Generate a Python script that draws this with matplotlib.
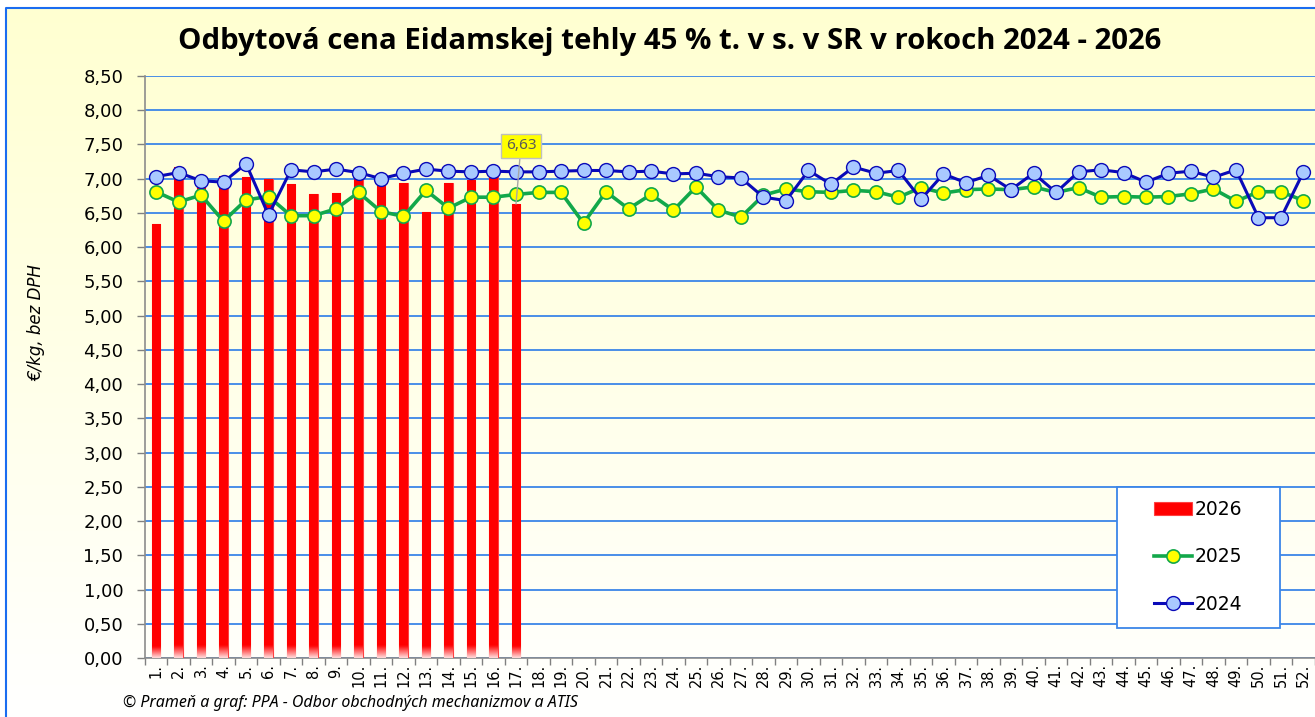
import numpy as np
import matplotlib
matplotlib.use("Agg")
import matplotlib.pyplot as plt
from matplotlib.patches import Rectangle
from matplotlib.ticker import FixedLocator, FuncFormatter

# ---- data ----
weeks = [f"{i}." for i in range(1, 53)]
y2026 = [6.34, 7.17, 6.95, 7.04, 7.02, 7.00, 6.92, 6.77, 6.79, 7.01, 6.97, 6.94,
         6.51, 6.93, 6.98, 7.02, 6.63]
y2025 = [6.81, 6.66, 6.76, 6.38, 6.69, 6.74, 6.46, 6.46, 6.56, 6.80, 6.52, 6.45,
         6.83, 6.57, 6.73, 6.73, 6.77, 6.80, 6.80, 6.35, 6.81, 6.56, 6.77, 6.54,
         6.88, 6.54, 6.44, 6.76, 6.85, 6.81, 6.80, 6.83, 6.81, 6.73, 6.87, 6.79,
         6.84, 6.85, 6.84, 6.88, 6.80, 6.87, 6.73, 6.74, 6.73, 6.74, 6.78, 6.85,
         6.67, 6.81, 6.81, 6.68]
y2024 = [7.03, 7.09, 6.97, 6.95, 7.22, 6.47, 7.13, 7.10, 7.14, 7.09, 7.00, 7.08,
         7.14, 7.11, 7.10, 7.11, 7.10, 7.10, 7.11, 7.12, 7.12, 7.10, 7.11, 7.07,
         7.08, 7.03, 7.01, 6.73, 6.68, 7.12, 6.92, 7.17, 7.08, 7.12, 6.70, 7.07,
         6.94, 7.05, 6.84, 7.08, 6.80, 7.10, 7.13, 7.09, 6.95, 7.08, 7.11, 7.02,
         7.13, 6.43, 6.43, 7.10]
yticks = np.arange(0, 8.51, 0.5)
title = "Odbytová cena Eidamskej tehly 45 % t. v s. v SR v rokoch 2024 - 2026"
ylabel = "€/kg, bez DPH"
footer = "© Prameň a graf: PPA - Odbor obchodných mechanizmov a ATIS"

W, H = 1315, 717
fig = plt.figure(figsize=(W / 100, H / 100), dpi=100)
fig.patch.set_facecolor("white")

# background gradient + border
bg = fig.add_axes([0, 0, 1, 1], zorder=-10)
bg.set_axis_off()
grad = np.linspace(0, 1, 256).reshape(-1, 1)
top = np.array([1.0, 1.0, 0.82])
bot = np.array([1.0, 1.0, 1.0])
img = top[None, None, :] * (1 - grad[:, :, None]) + bot[None, None, :] * grad[:, :, None]
bg.imshow(img, extent=[6 / W, 1, 0, 1 - 8 / H], aspect="auto", origin="upper",
          transform=bg.transAxes)
bg.set_xlim(0, 1)
bg.set_ylim(0, 1)
bg.plot([6 / W, 6 / W, 1], [0, 1 - 8 / H, 1 - 8 / H], color="#1a6cf0", lw=1.5,
        transform=bg.transAxes)

left, right, ytop, ybot = 144.75, 1314.75, 76, 658
ax = fig.add_axes([left / W, 1 - ybot / H, (right - left) / W, (ybot - ytop) / H])
ax.set_facecolor("none")

x = np.arange(1, 53)
x26 = np.arange(1, len(y2026) + 1)
bars = ax.bar(x26, y2026, width=0.36, color="#FF0000", edgecolor="#FF4040",
              linewidth=0.8, zorder=3)
# subtle gradient inside the bars: pale only at the very base
gv = np.linspace(0, 1, 300)
shade = np.clip((gv - 0.975) / 0.025, 0, 1) * 0.9
bar_img = np.zeros((300, 1, 3))
bar_img[:, 0, 0] = 1.0
bar_img[:, 0, 1] = 0.92 * shade
bar_img[:, 0, 2] = 0.92 * shade
for b in bars:
    im = ax.imshow(bar_img, extent=[b.get_x(), b.get_x() + b.get_width(), 0, b.get_height()],
                   aspect="auto", origin="upper", zorder=3.1, interpolation="bilinear")
    im.set_clip_path(b)
ax.plot(x, y2025, color="#12A84A", lw=2.6, marker="o", ms=9.5, mfc="#FFFF00",
        mec="#12A84A", mew=1.2, zorder=4)
ax.plot(x, y2024, color="#0A0AB8", lw=2.2, marker="o", ms=10, mfc="#A9C9FF",
        mec="#0A0AB8", mew=1.0, zorder=5)

ax.set_xlim(0.5, 52.5)
ax.set_ylim(0, 8.5)
ax.set_yticks(yticks)
ax.yaxis.set_major_formatter(FuncFormatter(lambda v, p: f"{v:.2f}".replace(".", ",")))
ax.grid(axis="y", color="#3C86E8", lw=1.3, zorder=1)
ax.set_axisbelow(True)

ax.xaxis.set_major_locator(FixedLocator(np.arange(0.5, 53, 1)))
ax.xaxis.set_major_formatter(FuncFormatter(lambda v, p: ""))
ax.xaxis.set_minor_locator(FixedLocator(x))
ax.set_xticklabels(weeks, minor=True, rotation=90)
ax.tick_params(axis="x", which="minor", length=0, pad=4, labelsize=10.5)
ax.tick_params(axis="x", which="major", length=5, color="#808080", width=1)
ax.tick_params(axis="y", length=6, color="#808080", width=1, labelsize=13, pad=9.5)
for lab in ax.get_xticklabels(minor=True) + ax.get_yticklabels():
    lab.set_fontfamily("DejaVu Sans")

for s in ["top", "right"]:
    ax.spines[s].set_visible(False)
for s in ["left", "bottom"]:
    ax.spines[s].set_color("#8C8C8C")
    ax.spines[s].set_linewidth(1.2)

# data label
ax.annotate("6,63", xy=(17, 6.63), xytext=(17.22, 7.48), ha="center", va="center",
            fontsize=11, color="#595959", family="Noto Sans",
            bbox=dict(boxstyle="square,pad=0.3", fc="#FFFF00", ec="#BFBFBF", lw=1),
            arrowprops=dict(arrowstyle="-", color="#A6A6A6", lw=1,
                            shrinkA=0, shrinkB=0), zorder=7)

fig.text(670 / W, 1 - 42 / H, title, ha="center", va="center", fontsize=21.2,
         fontweight="bold", family="Open Sans")
fig.text(36 / W, 1 - 323 / H, ylabel, ha="center", va="center", rotation=90,
         fontsize=12, style="italic", family="DejaVu Sans")
fig.text(123 / W, 1 - 703 / H, footer, ha="left", va="center", fontsize=11.5,
         style="italic", family="Noto Sans")

# legend box + legend
ax.add_patch(Rectangle((1117 / W, 1 - 628 / H), 163 / W, 141 / H,
                       transform=fig.transFigure, fc="white", ec="#3C86E8",
                       lw=1.3, zorder=25, clip_on=False))
leg = ax.legend(handles=[ax.containers[0], ax.lines[0], ax.lines[1]],
                labels=["2026", "2025", "2024"],
                loc="center", bbox_to_anchor=(1198 / W, 1 - 557 / H),
                bbox_transform=fig.transFigure, borderaxespad=0,
                prop={"family": "DejaVu Sans", "size": 13.5}, labelspacing=1.52,
                handlelength=2.0, handletextpad=0.15, borderpad=0.3,
                frameon=False)
leg.set_zorder(30)

fig.savefig("out.png", dpi=100)
